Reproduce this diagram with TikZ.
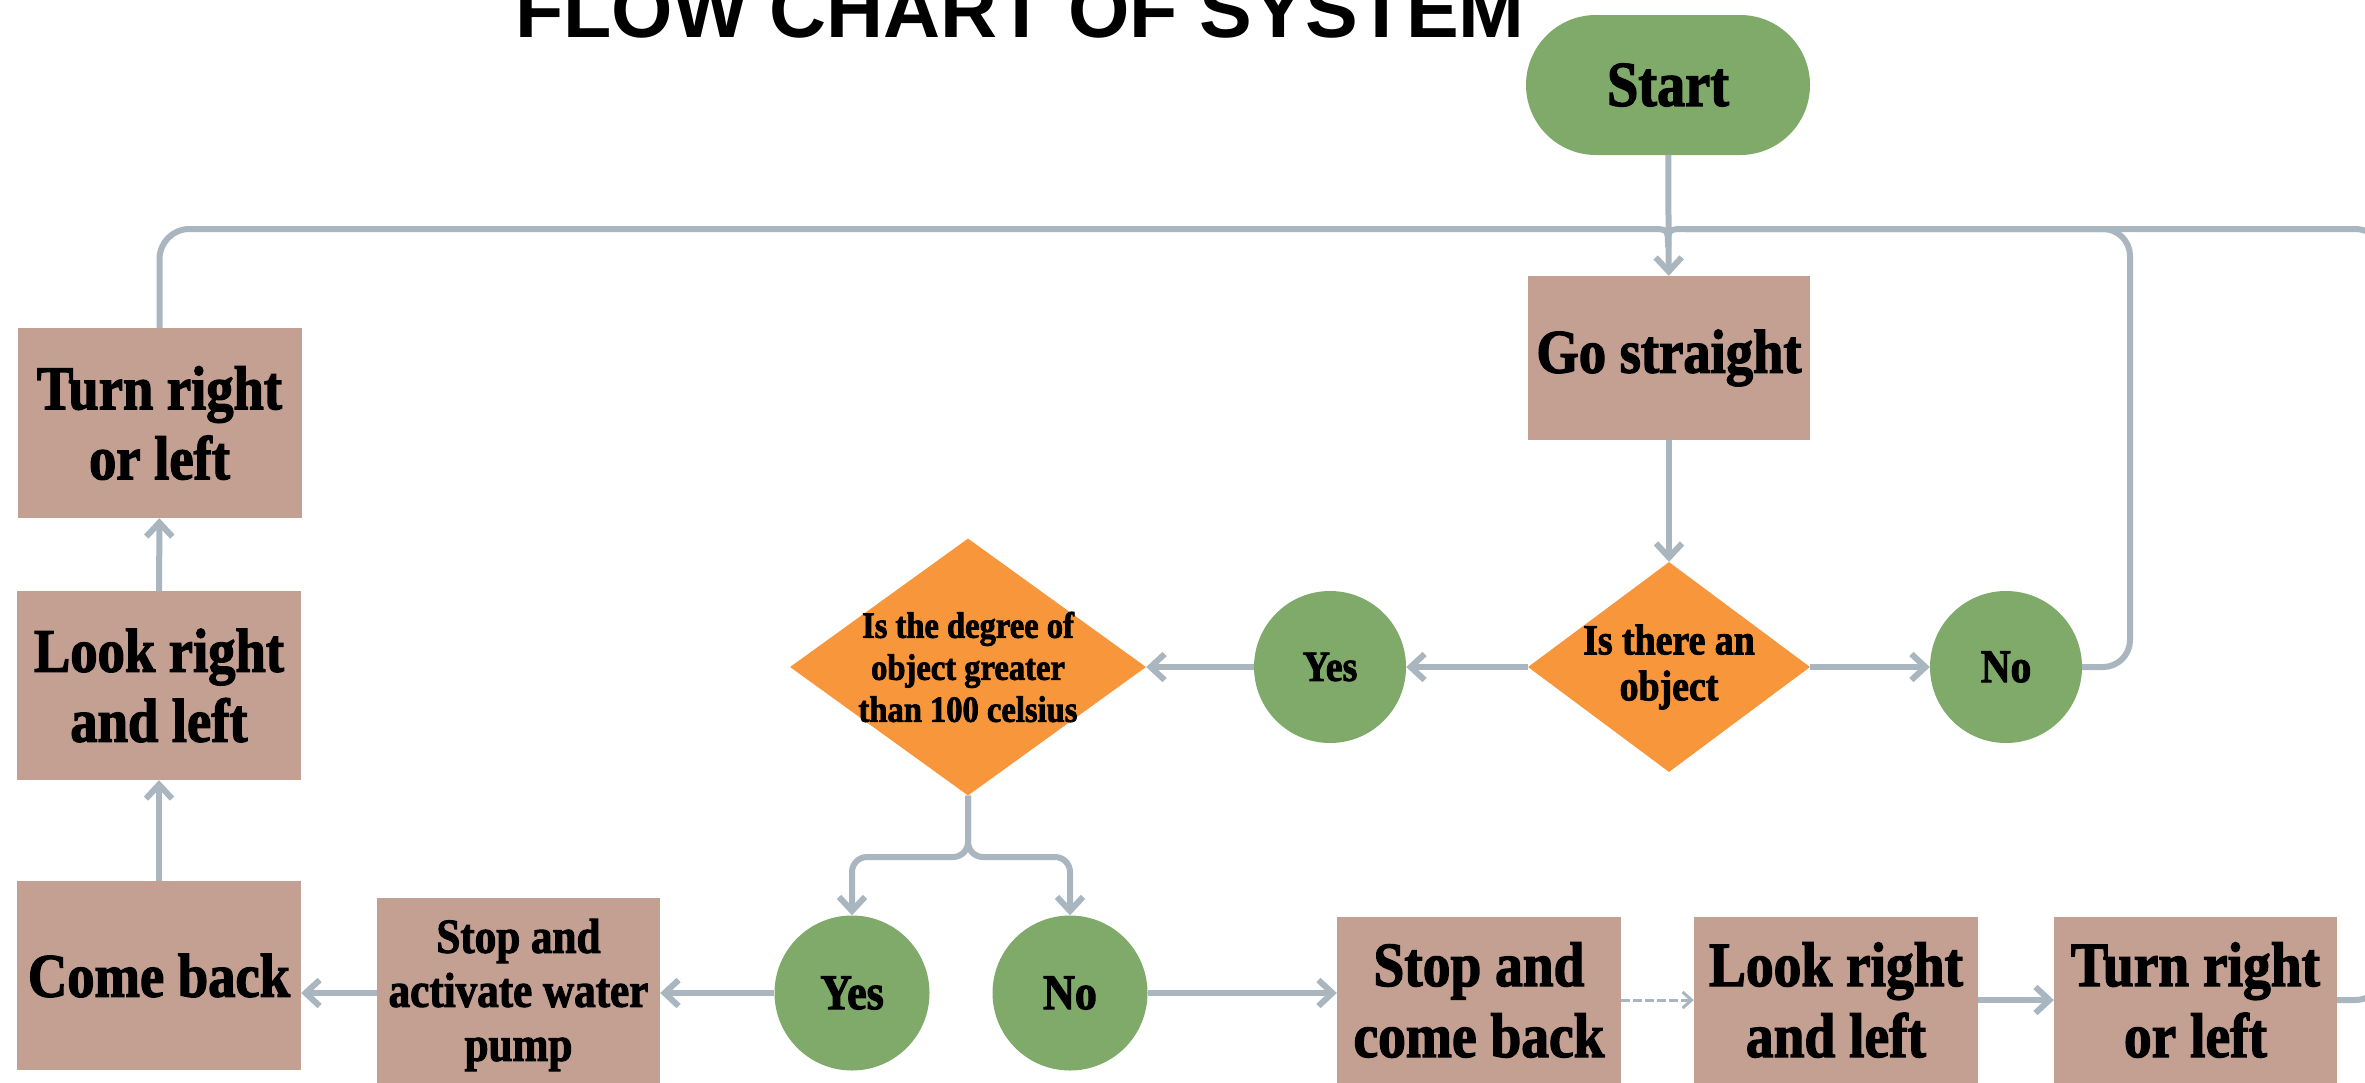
\documentclass[tikz,border=0pt]{standalone}
\usepackage{fontspec}
\usetikzlibrary{shapes.geometric,shapes.misc,arrows.meta,calc}
\newfontfamily\boxfont[FakeStretch=0.88,FakeBold=2]{Liberation Serif}
\newfontfamily\titlefont{Liberation Sans}
\definecolor{boxC}{HTML}{C4A093}
\definecolor{orangeC}{HTML}{F7963B}
\definecolor{greenC}{HTML}{80AA6A}
\definecolor{lineC}{HTML}{A9B6C0}
\newcommand{\fsz}[2]{\fontsize{#1}{#2}\selectfont}
\tikzset{
  conn/.style={draw=lineC, line width=6pt},
  arr/.style={conn, -{Straight Barb[length=14pt,width=26pt]}},
  dasharr/.style={draw=lineC, line width=3pt, dash pattern=on 9pt off 3pt, -{Straight Barb[length=9pt,width=16pt]}},
  procbox/.style={rectangle, fill=boxC, inner sep=0pt, align=center, text=black,
     minimum width=284pt, font={\boxfont\bfseries\fsz{62}{70}}},
  decision/.style={diamond, fill=orangeC, inner sep=0pt},
  dtext/.style={inner sep=0pt, align=center, text=black},
  answer/.style={circle, fill=greenC, inner sep=0pt, minimum size=152pt, text=black},
  titletext/.style={inner sep=0pt, anchor=base, font={\titlefont\bfseries\fsz{79}{90}}},
}
\begin{document}
\begin{tikzpicture}[x=1pt,y=-1pt]
\fill[white] (0,0) rectangle (2365,1082);
\useasboundingbox (0,0) rectangle (2365,1082);

% title
\node[titletext] (title) at (1020,37) {FLOW CHART OF SYSTEM};

% main column
\node[rounded rectangle, fill=greenC, inner sep=0pt, minimum width=284pt, minimum height=140pt,
      font={\boxfont\bfseries\fsz{64}{70}}] (start) at (1668,85) {Start};
\node[procbox, minimum width=282pt, minimum height=164pt] (go) at (1669,358) {Go straight};
\node[decision, minimum width=282pt, minimum height=210pt] (obj) at (1669,667) {};
\node[dtext, font={\boxfont\bfseries\fsz{43}{46}}] (objT) at (obj) {Is there an\\object};

\node[answer, font={\boxfont\bfseries\fsz{47}{50}}] (noA) at (2006,667) {No};
\node[answer, font={\boxfont\bfseries\fsz{43}{50}}] (yesA) at (1330,667) {Yes};

\node[decision, minimum width=356pt, minimum height=257pt] (dia2) at (968,667) {};
\node[dtext, font={\boxfont\bfseries\fsz{37}{42}}] (dia2T) at (dia2) {Is the degree of\\object greater\\than 100 celsius};

\node[answer, minimum size=155pt, font={\boxfont\bfseries\fsz{50}{50}}] (yesB) at (852,993) {Yes};
\node[answer, minimum size=155pt, font={\boxfont\bfseries\fsz{50}{50}}] (noB) at (1070,993) {No};

% left column
\node[procbox, minimum width=283pt, minimum height=194pt, font={\boxfont\bfseries\fsz{49}{54}}] (act) at (518.5,995) {Stop and\\activate water\\pump};
\node[procbox, minimum height=189pt] (comeback) at (159,975.5) {Come back};
\node[procbox, minimum height=189pt] (lookL) at (159,685.5) {Look right\\and left};
\node[procbox, minimum height=190pt] (turnL) at (159.5,423) {Turn right\\or left};

% bottom row
\node[procbox, minimum height=166pt, font={\boxfont\bfseries\fsz{63}{71}}] (stopcb) at (1479,1000) {Stop and\\come back};
\node[procbox, minimum height=166pt, font={\boxfont\bfseries\fsz{63}{71}}] (lookB) at (1836,1000) {Look right\\and left};
\node[procbox, minimum width=283pt, minimum height=166pt, font={\boxfont\bfseries\fsz{63}{71}}] (turnB) at (2195.5,1000) {Turn right\\or left};

% helper coordinates
\coordinate (mL) at (1650,229);
\coordinate (mR) at (1686,229);
\coordinate (mD) at (1668,247);
\coordinate (fork) at (968,857);

% connectors
\draw[arr] (start) -- (go);
\draw[conn, rounded corners=30pt] (turnL.north) |- (mL);
\draw[conn] (mL) .. controls (1668,229) .. (mD);
\draw[conn] (mR) .. controls (1668,229) .. (mD);
\draw[conn, rounded corners=27pt] (noA.east) -| (2130,229) -- (mR);
\draw[conn, rounded corners=30pt] (turnB.east) -| (2385,229) -- (mR);

\draw[arr] (go) -- (obj);
\draw[arr] (obj) -- (noA);
\draw[arr] (obj) -- (yesA);
\draw[arr] (yesA) -- (dia2);

\draw[arr, rounded corners=15pt] (dia2.south) |- (yesB.north |- fork) -- (yesB.north);
\draw[arr, rounded corners=15pt] (dia2.south) |- (noB.north |- fork) -- (noB.north);

\draw[arr] (yesB.west) -- (act.east |- yesB.west);
\draw[arr] (act.west |- yesB.west) -- (comeback.east |- yesB.west);
\draw[arr] (comeback) -- (lookL);
\draw[arr] (lookL) -- (turnL);

\draw[arr] (noB.east) -- (stopcb.west |- noB.east);
\draw[dasharr] (stopcb.east) -- (lookB.west);
\draw[arr] (lookB) -- (turnB);
\end{tikzpicture}
\end{document}
